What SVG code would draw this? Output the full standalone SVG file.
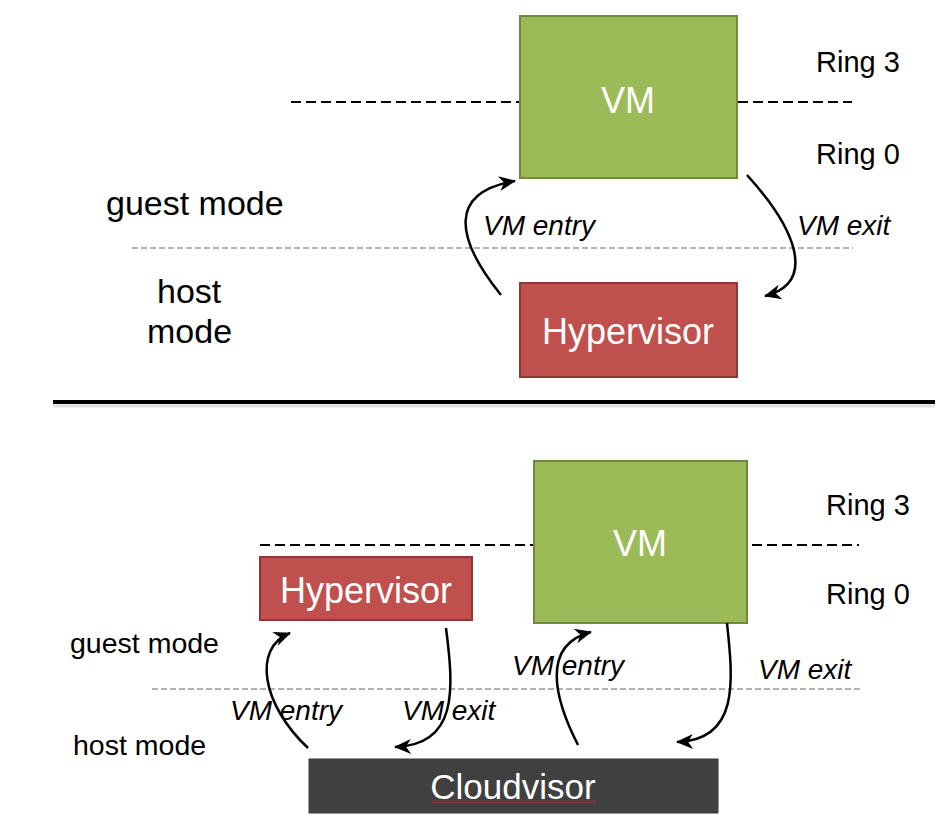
<svg xmlns="http://www.w3.org/2000/svg" width="948" height="831" viewBox="0 0 948 831">
  <style>
    .lbl { font-family: "Liberation Sans", Arial, sans-serif; fill: #000; }
    .mode { font-size: 34px; }
    .mode2 { font-size: 28.5px; }
    .ring { font-size: 29px; }
    .ev { font-size: 28px; font-style: italic; }
    .box { font-family: "Liberation Sans", Arial, sans-serif; fill: #fff; font-size: 36px; text-anchor: middle; }
    .vm { fill: #9BBB59; stroke: #71893F; stroke-width: 2; }
    .hv { fill: #C0504D; stroke: #8C3836; stroke-width: 2; }
    .cv { fill: #404040; stroke: #3A3A3A; stroke-width: 1; }
    .ring-sep { stroke: #000; stroke-width: 2; stroke-dasharray: 10 5; fill: none; }
    .mode-sep { stroke: #999; stroke-width: 1.5; stroke-dasharray: 6 3; fill: none; }
    .arrow { stroke: #000; stroke-width: 2.5; fill: none; marker-end: url(#head); }
  </style>
  <defs>
    <marker id="head" markerUnits="userSpaceOnUse" markerWidth="20" markerHeight="18" viewBox="-18 -9 20 18" refX="0" refY="0" orient="auto">
      <path d="M1,0 L-16,-7.5 L-11,0 L-16,7.5 Z" fill="#000"/>
    </marker>
    <pattern id="squiggle" patternUnits="userSpaceOnUse" width="4" height="3">
      <polyline points="0,0.5 2,2.5 4,0.5" fill="none" stroke="#D03030" stroke-width="0.9"/>
    </pattern>
  </defs>
  <rect x="0" y="0" width="948" height="831" fill="#fff"/>

  <!-- Top section -->
  <g id="top-separators">
    <line class="ring-sep" x1="291" y1="102" x2="520" y2="102"/>
    <line class="ring-sep" x1="738" y1="102" x2="852" y2="102"/>
    <line class="mode-sep" x1="132" y1="248" x2="853" y2="248"/>
  </g>
  <g id="top-labels">
    <text class="lbl ring" x="816" y="72">Ring 3</text>
    <text class="lbl ring" x="816" y="164">Ring 0</text>
    <text class="lbl mode" x="106" y="215">guest mode</text>
    <text class="lbl mode" x="157" y="303">host</text>
    <text class="lbl mode" x="147" y="343">mode</text>
  </g>
  <g id="top-vm">
    <rect class="vm" x="520" y="16" width="217" height="162"/>
    <text class="box" x="628" y="113">VM</text>
  </g>
  <g id="top-hypervisor">
    <rect class="hv" x="520" y="283" width="217" height="94"/>
    <text class="box" x="628" y="344">Hypervisor</text>
  </g>
  <g id="top-connectors">
    <path class="arrow" d="M501,295 C455,238 448,192 515,181"/>
    <path class="arrow" d="M747,175 C795,228 818,282 765,296"/>
    <text class="lbl ev" x="483" y="235">VM entry</text>
    <text class="lbl ev" x="797" y="235">VM exit</text>
  </g>

  <!-- Divider -->
  <g id="divider">
    <line x1="53" y1="406" x2="935" y2="406" stroke="#000" stroke-opacity="0.12" stroke-width="3"/>
    <line x1="53" y1="402" x2="935" y2="402" stroke="#000" stroke-width="4"/>
  </g>

  <!-- Bottom section -->
  <g id="bottom-separators">
    <line class="ring-sep" x1="260" y1="545" x2="534" y2="545"/>
    <line class="ring-sep" x1="752" y1="545" x2="859" y2="545"/>
    <line class="mode-sep" x1="152" y1="689" x2="860" y2="689"/>
  </g>
  <g id="bottom-labels">
    <text class="lbl ring" x="826" y="515">Ring 3</text>
    <text class="lbl ring" x="826" y="604">Ring 0</text>
    <text class="lbl mode2" x="70" y="653">guest mode</text>
    <text class="lbl mode2" x="73" y="755">host mode</text>
  </g>
  <g id="bottom-vm">
    <rect class="vm" x="534" y="461" width="213" height="162"/>
    <text class="box" x="640" y="556">VM</text>
  </g>
  <g id="bottom-hypervisor">
    <rect class="hv" x="260" y="557" width="212" height="63"/>
    <text class="box" x="366" y="603">Hypervisor</text>
  </g>
  <g id="cloudvisor">
    <rect class="cv" x="309" y="759" width="409" height="54"/>
    <text class="box" x="513" y="799" style="font-size:35px">Cloudvisor</text>
    <rect x="431" y="800" width="165" height="3" fill="url(#squiggle)"/>
  </g>
  <g id="bottom-connectors">
    <path class="arrow" d="M308,748 C262,705 252,648 290,633"/>
    <path class="arrow" d="M446,628 C454,690 458,745 395,747"/>
    <path class="arrow" d="M578,745 C555,700 540,645 591,632"/>
    <path class="arrow" d="M727,623 C733,680 740,740 677,742"/>
    <text class="lbl ev" x="230" y="720">VM entry</text>
    <text class="lbl ev" x="402" y="720">VM exit</text>
    <text class="lbl ev" x="512" y="675">VM entry</text>
    <text class="lbl ev" x="758" y="679">VM exit</text>
  </g>
</svg>
